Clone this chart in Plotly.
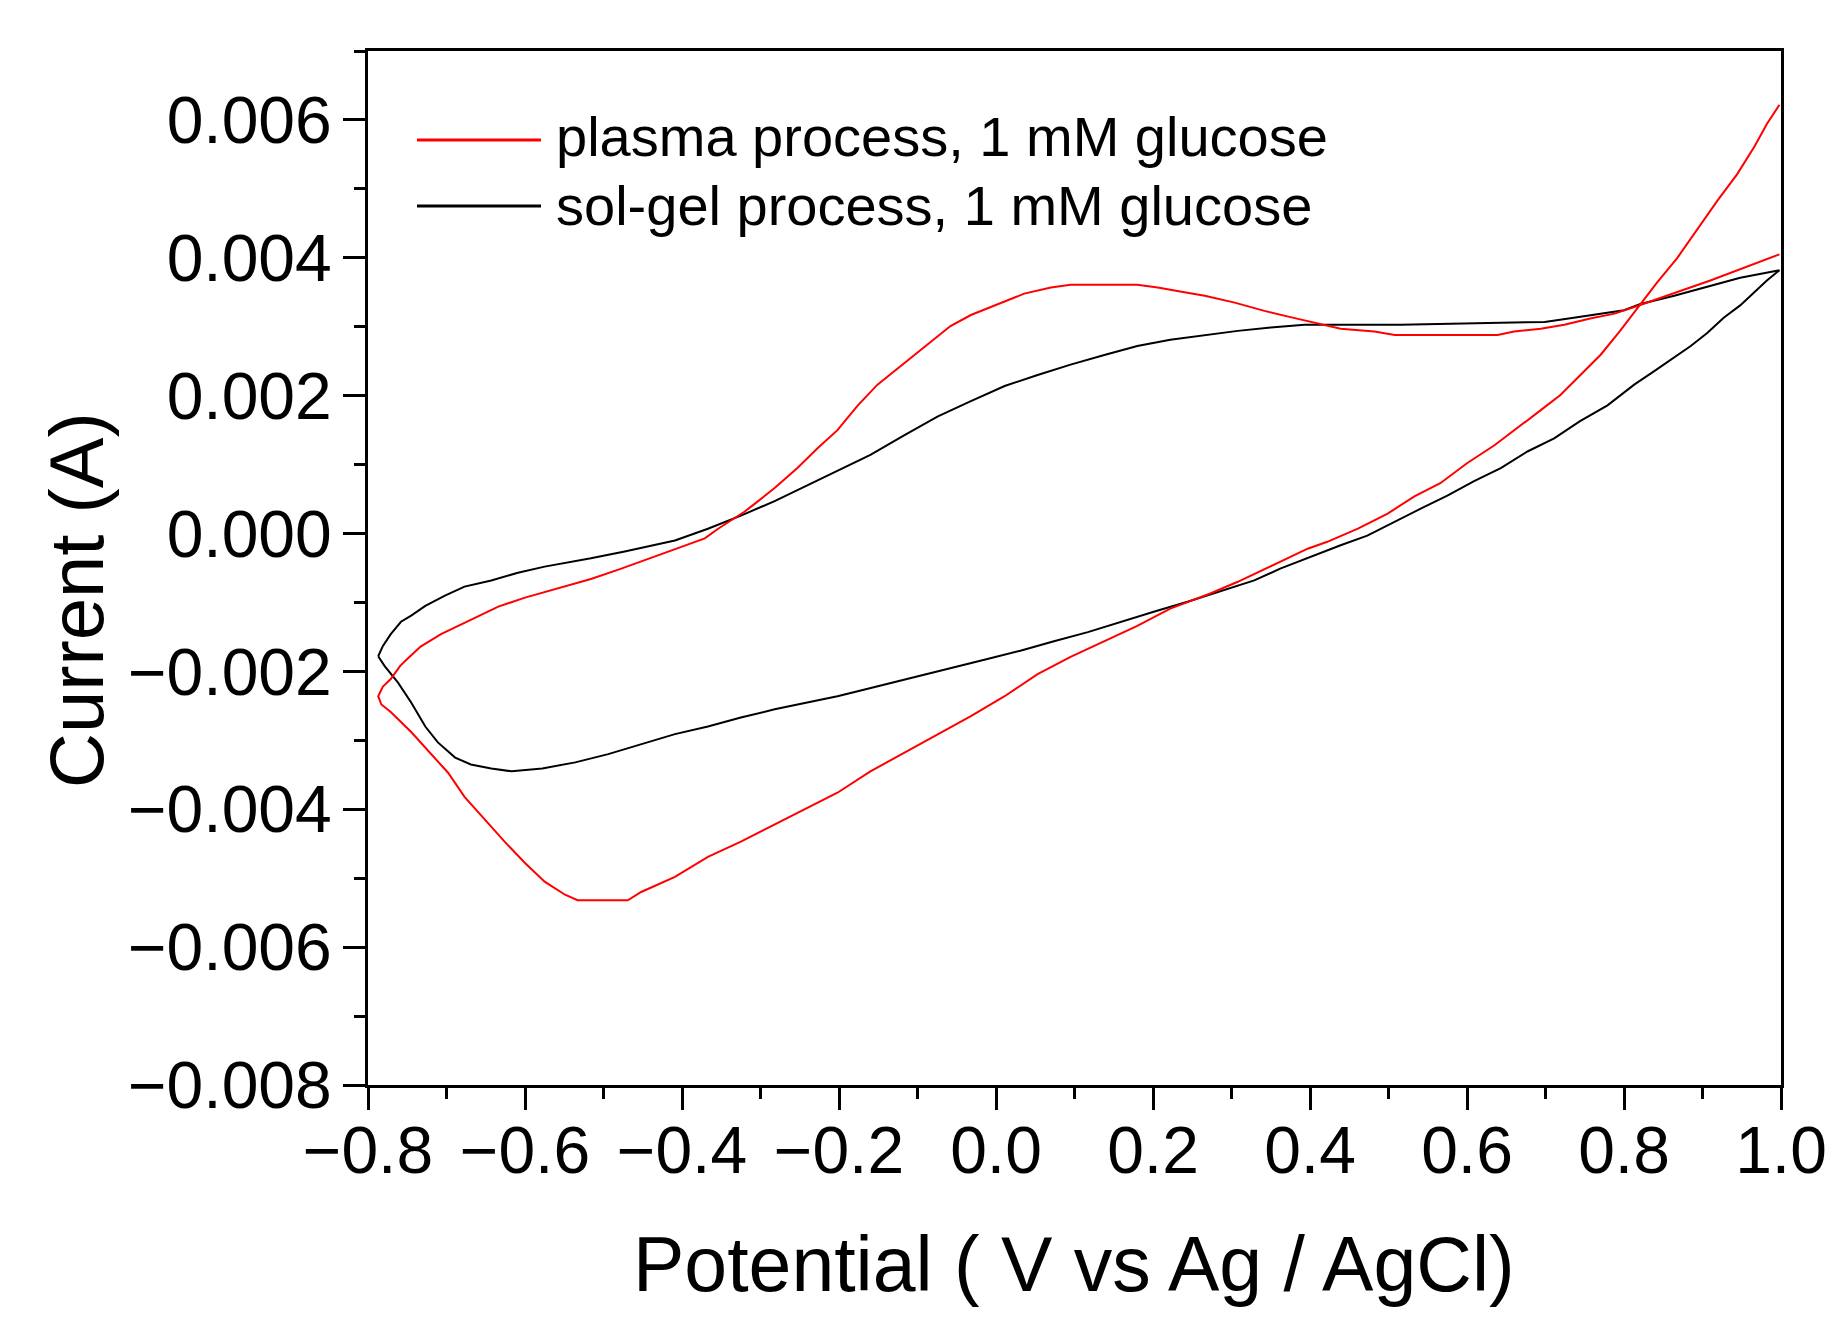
import plotly.graph_objects as go

# ---- data (V vs Ag/AgCl, A) ----
plasma_v = [0.998, 0.982, 0.966, 0.944, 0.919, 0.893, 0.868, 0.842, 0.821, 0.795, 0.770, 0.744, 0.719, 0.694,
            0.660, 0.635, 0.600, 0.566, 0.533, 0.499, 0.461, 0.422, 0.397, 0.342, 0.308, 0.273, 0.222, 0.180,
            0.138, 0.095, 0.053, 0.011, -0.032, -0.074, -0.116, -0.160, -0.202, -0.240, -0.282, -0.325, -0.367,
            -0.409, -0.452, -0.469, -0.533, -0.549, -0.575, -0.600, -0.626, -0.651, -0.677, -0.698, -0.720,
            -0.745, -0.771, -0.783, -0.787,
            -0.781, -0.771, -0.759, -0.749, -0.733, -0.707, -0.685, -0.664, -0.634, -0.600, -0.558, -0.516,
            -0.480, -0.431, -0.405, -0.371, -0.354, -0.320, -0.303, -0.282, -0.253, -0.227, -0.202, -0.176,
            -0.151, -0.125, -0.109, -0.087, -0.058, -0.032, 0.002, 0.036, 0.070, 0.095, 0.180, 0.206, 0.240,
            0.266, 0.304, 0.342, 0.371, 0.401, 0.439, 0.482, 0.508, 0.639, 0.660, 0.694, 0.724, 0.757, 0.788,
            0.817, 0.846, 0.877, 0.910, 0.944, 0.970, 0.998]
plasma_i = [0.00622, 0.00594, 0.00561, 0.00521, 0.00483, 0.00440, 0.00400, 0.00364, 0.00332, 0.00294, 0.00259,
            0.00230, 0.00201, 0.00179, 0.00149, 0.00128, 0.00102, 0.00073, 0.00054, 0.00029, 0.00007, -0.00012,
            -0.00022, -0.00051, -0.00070, -0.00087, -0.00109, -0.00134, -0.00156, -0.00179, -0.00204, -0.00236,
            -0.00265, -0.00291, -0.00317, -0.00345, -0.00376, -0.00398, -0.00422, -0.00447, -0.00469, -0.00498,
            -0.00520, -0.00532, -0.00532, -0.00524, -0.00505, -0.00478, -0.00447, -0.00415, -0.00382, -0.00347,
            -0.00320, -0.00288, -0.00259, -0.00248, -0.00236,
            -0.00222, -0.00211, -0.00192, -0.00181, -0.00164, -0.00146, -0.00134, -0.00122, -0.00106, -0.00093,
            -0.00079, -0.00066, -0.00052, -0.00032, -0.00022, -0.00007, 0.00007, 0.00032, 0.00047, 0.00066,
            0.00095, 0.00124, 0.00150, 0.00186, 0.00216, 0.00240, 0.00255, 0.00274, 0.00301, 0.00317, 0.00332,
            0.00348, 0.00357, 0.00361, 0.00361, 0.00357, 0.00350, 0.00345, 0.00335, 0.00323, 0.00315, 0.00307,
            0.00297, 0.00293, 0.00288, 0.00288, 0.00293, 0.00297, 0.00303, 0.00312, 0.00319, 0.00330, 0.00342,
            0.00354, 0.00367, 0.00382, 0.00393, 0.00405]

solgel_v = [-0.787, -0.781, -0.771, -0.758, -0.745, -0.727, -0.702, -0.677, -0.643, -0.609, -0.575, -0.516,
            -0.473, -0.409, -0.367, -0.325, -0.282, -0.240, -0.202, -0.160, -0.116, -0.074, -0.032, 0.011,
            0.053, 0.095, 0.138, 0.180, 0.222, 0.266, 0.308, 0.350, 0.393, 0.515, 0.609, 0.699, 0.736, 0.766,
            0.800, 0.821, 0.864, 0.906, 0.948, 0.998,
            0.982, 0.966, 0.948, 0.927, 0.906, 0.885, 0.864, 0.839, 0.813, 0.779, 0.744, 0.711, 0.677, 0.643,
            0.609, 0.575, 0.541, 0.507, 0.473, 0.439, 0.397, 0.362, 0.329, 0.286, 0.244, 0.202, 0.159, 0.117,
            0.075, 0.031, -0.011, -0.053, -0.096, -0.138, -0.180, -0.202, -0.240, -0.282, -0.325, -0.367,
            -0.409, -0.452, -0.494, -0.536, -0.578, -0.617, -0.643, -0.669, -0.689, -0.711, -0.727, -0.745,
            -0.762, -0.779, -0.787]
solgel_i = [-0.00178, -0.00163, -0.00146, -0.00128, -0.00119, -0.00105, -0.00090, -0.00077, -0.00068, -0.00057,
            -0.00048, -0.00036, -0.00026, -0.00010, 0.00007, 0.00026, 0.00047, 0.00070, 0.00091, 0.00114,
            0.00143, 0.00170, 0.00192, 0.00214, 0.00230, 0.00245, 0.00259, 0.00272, 0.00281, 0.00288, 0.00294,
            0.00299, 0.00303, 0.00303, 0.00305, 0.00307, 0.00313, 0.00318, 0.00324, 0.00333, 0.00345, 0.00358,
            0.00371, 0.00382,
            0.00367, 0.00350, 0.00331, 0.00313, 0.00291, 0.00272, 0.00255, 0.00236, 0.00216, 0.00186, 0.00163,
            0.00138, 0.00119, 0.00095, 0.00076, 0.00055, 0.00036, 0.00017, -0.00003, -0.00017, -0.00036,
            -0.00051, -0.00068, -0.00084, -0.00099, -0.00113, -0.00128, -0.00143, -0.00156, -0.00170, -0.00182,
            -0.00194, -0.00207, -0.00218, -0.00230, -0.00236, -0.00245, -0.00255, -0.00267, -0.00280, -0.00291,
            -0.00306, -0.00320, -0.00332, -0.00341, -0.00345, -0.00341, -0.00335, -0.00325, -0.00303, -0.00280,
            -0.00245, -0.00216, -0.00192, -0.00178]

series_names = ["plasma process, 1 mM glucose", "sol-gel process, 1 mM glucose"]
series_colors = ["#ff0000", "#000000"]

x_title = "Potential ( V vs Ag / AgCl)"
y_title = "Current (A)"

FONT = "Arial, 'Liberation Sans', Helvetica, sans-serif"

fig = go.Figure()
fig.add_trace(go.Scatter(x=solgel_v, y=solgel_i, mode="lines", name=series_names[1],
                         line=dict(color=series_colors[1], width=2), showlegend=False))
fig.add_trace(go.Scatter(x=plasma_v, y=plasma_i, mode="lines", name=series_names[0],
                         line=dict(color=series_colors[0], width=2), showlegend=False))

W, H = 1846, 1326
L, R, T, B = 360, 1773, 43, 1077


def px(xp):
    return (xp - L) / (R - L)


def py(yp):
    return (B - yp) / (B - T)


# manual legend
leg_rows = [(132, 128), (198, 197)]
for (ly, ty), name, col in zip(leg_rows, series_names, series_colors):
    fig.add_shape(type="line", xref="paper", yref="paper", x0=px(409), x1=px(533), y0=py(ly), y1=py(ly),
                  line=dict(color=col, width=3))
    fig.add_annotation(xref="paper", yref="paper", x=px(546), y=py(ty), text=name, showarrow=False,
                       xanchor="left", yanchor="middle", font=dict(family=FONT, size=56, color="black"))

# axis titles
fig.add_annotation(xref="paper", yref="paper", x=px(1066), y=py(1256), text=x_title, showarrow=False,
                   xanchor="center", yanchor="middle", font=dict(family=FONT, size=77, color="black"))
fig.add_annotation(xref="paper", yref="paper", x=px(68), y=py(592), text=y_title, showarrow=False,
                   textangle=-90, xanchor="center", yanchor="middle", font=dict(family=FONT, size=76, color="black"))

axis_common = dict(showline=True, linecolor="black", linewidth=3, mirror=True, ticks="outside",
                   ticklen=22, tickwidth=3, tickcolor="black", showgrid=False, zeroline=False,
                   tickfont=dict(family=FONT, size=66, color="black"))

fig.update_xaxes(range=[-0.8, 1.0], dtick=0.2, tick0=-0.8, tickformat=".1f",
                 minor=dict(dtick=0.1, ticklen=11, tickwidth=3, tickcolor="black", ticks="outside", showgrid=False),
                 ticklabelstandoff=-16, **axis_common)
fig.update_yaxes(range=[-0.008, 0.007], dtick=0.002, tick0=0, tickformat=".3f",
                 minor=dict(dtick=0.001, ticklen=11, tickwidth=3, tickcolor="black", ticks="outside", showgrid=False),
                 ticklabelstandoff=-2, **axis_common)

fig.update_layout(width=W, height=H, margin=dict(l=L, r=W - R, t=T, b=H - B, autoexpand=False),
                  plot_bgcolor="white", paper_bgcolor="white")

fig.write_html("out.html")
